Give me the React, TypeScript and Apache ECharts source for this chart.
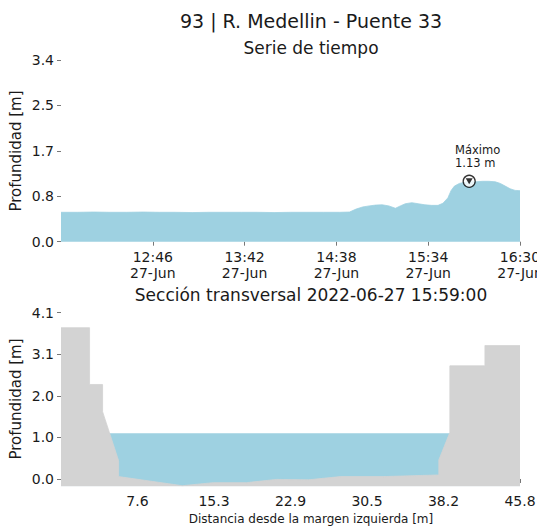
import React, { useEffect, useRef } from "react";
import * as echarts from "echarts";

// ---- Time series (top chart) ----
const seriesTimes = [
  "11:50", "12:00", "12:10", "12:20", "12:30", "12:40", "12:50", "13:00", "13:10", "13:20",
  "13:30", "13:40", "13:50", "14:00", "14:10", "14:20", "14:30", "14:40", "14:46", "14:50",
  "14:54", "14:58", "15:02", "15:06", "15:10", "15:14", "15:17", "15:20", "15:24", "15:28",
  "15:32", "15:36", "15:40", "15:43", "15:46", "15:48", "15:50", "15:53", "15:56", "15:59",
  "16:03", "16:07", "16:11", "16:15", "16:18", "16:21", "16:24", "16:27", "16:30",
];
const seriesDepths = [
  0.55, 0.55, 0.555, 0.55, 0.55, 0.555, 0.55, 0.55, 0.545, 0.55,
  0.55, 0.55, 0.55, 0.545, 0.55, 0.55, 0.55, 0.55, 0.555, 0.61,
  0.65, 0.67, 0.685, 0.69, 0.67, 0.625, 0.67, 0.71, 0.73, 0.71,
  0.69, 0.68, 0.68, 0.72, 0.82, 0.96, 1.04, 1.09, 1.11, 1.13,
  1.12, 1.13, 1.13, 1.12, 1.09, 1.04, 0.99, 0.96, 0.955,
];
const timeStart = "11:50";
const timeEnd = "16:30";
const timeTickTimes = ["12:46", "13:42", "14:38", "15:34", "16:30"];
const timeTickLabels = ["12:46\n27-Jun", "13:42\n27-Jun", "14:38\n27-Jun", "15:34\n27-Jun", "16:30\n27-Jun"];
const depthTicks = [0, 0.85, 1.7, 2.55, 3.4];
const depthTickLabels = ["0.0", "0.8", "1.7", "2.5", "3.4"];
const maxTime = "15:59";
const maxDepth = 1.13;

// ---- Cross section (bottom chart) ----
const sectionX = [0, 2.85, 2.85, 4.15, 4.15, 5.75, 5.75, 12.1, 15.2, 18.5, 21.5, 24.7, 27.9, 32.2, 37.7, 37.7, 38.8, 38.8, 42.3, 42.3, 45.8];
const sectionY = [3.73, 3.73, 2.33, 2.33, 1.66, 0.45, 0.06, -0.165, -0.09, -0.09, -0.01, -0.02, 0.06, 0.06, 0.1, 0.47, 1.15, 2.79, 2.79, 3.29, 3.29];
const waterLevel = maxDepth;
const sectionXTicks = [7.633, 15.267, 22.9, 30.533, 38.167, 45.8];
const sectionXTickLabels = ["7.6", "15.3", "22.9", "30.5", "38.2", "45.8"];
const sectionYTicks = [0, 1.025, 2.05, 3.075, 4.1];
const sectionYTickLabels = ["0.0", "1.0", "2.0", "3.1", "4.1"];

const WATER = "#9ed1e1";
const GROUND = "#d3d3d3";
const FONT = "DejaVu Sans";
const TEXT = "#1a1a1a";
const TICK = "#777";

// minutes since midnight of 2022-06-27
function toMin(hm: string): number {
  const [h, m] = hm.split(":").map(Number);
  return h * 60 + m;
}

function lookup(ticks: number[], labels: string[], v: number): string {
  for (let i = 0; i < ticks.length; i++) {
    if (Math.abs(ticks[i] - v) < 1e-6 * Math.max(1, Math.abs(v))) return labels[i];
  }
  return "";
}

export default function App() {
  const ref = useRef<HTMLDivElement>(null);
  useEffect(() => {
    if (!ref.current) return;
    const chart = echarts.init(ref.current, undefined, { renderer: "svg" });
    const timeTicks = timeTickTimes.map(toMin);
    const axisTick = { show: true, length: 4, lineStyle: { color: TICK, width: 1 } };
    const labelBase = { color: TEXT, fontFamily: FONT, fontSize: 14 };
    const option: any = {
      animation: false,
      backgroundColor: "#fff",
      grid: [
        { left: 61, top: 60, width: 459, height: 181.7, containLabel: false, outerBoundsMode: "none" },
        { left: 61, top: 312.7, width: 459, height: 173.6, containLabel: false, outerBoundsMode: "none" },
      ],
      xAxis: [
        {
          type: "value",
          gridIndex: 0,
          min: toMin(timeStart),
          max: toMin(timeEnd),
          axisLine: { show: false },
          splitLine: { show: false },
          axisTick: { ...axisTick, customValues: timeTicks },
          axisLabel: {
            ...labelBase,
            lineHeight: 16.5,
            margin: 7,
            customValues: timeTicks,
            showMaxLabel: true,
            formatter: (v: number) => lookup(timeTicks, timeTickLabels, v),
          },
        },
        {
          type: "value",
          gridIndex: 1,
          min: 0,
          max: 45.8,
          axisLine: { show: false },
          splitLine: { show: false },
          axisTick: { ...axisTick, customValues: sectionXTicks },
          axisLabel: {
            ...labelBase,
            margin: 8,
            customValues: sectionXTicks,
            showMaxLabel: true,
            formatter: (v: number) => lookup(sectionXTicks, sectionXTickLabels, v),
          },
        },
      ],
      yAxis: [
        {
          type: "value",
          gridIndex: 0,
          min: 0,
          max: 3.4,
          axisLine: { show: false },
          splitLine: { show: false },
          axisTick: { ...axisTick, customValues: depthTicks },
          axisLabel: {
            ...labelBase,
            margin: 7,
            customValues: depthTicks,
            formatter: (v: number) => lookup(depthTicks, depthTickLabels, v),
          },
        },
        {
          type: "value",
          gridIndex: 1,
          min: -0.18,
          max: 4.1,
          axisLine: { show: false },
          splitLine: { show: false },
          axisTick: { ...axisTick, customValues: sectionYTicks },
          axisLabel: {
            ...labelBase,
            margin: 7,
            customValues: sectionYTicks,
            formatter: (v: number) => lookup(sectionYTicks, sectionYTickLabels, v),
          },
        },
      ],
      series: [
        {
          type: "line",
          xAxisIndex: 0,
          yAxisIndex: 0,
          data: seriesTimes.map((t, i) => [toMin(t), seriesDepths[i]]),
          showSymbol: false,
          symbol: "none",
          lineStyle: { width: 0.8, color: WATER },
          areaStyle: { color: WATER, opacity: 1, origin: "start" },
          silent: true,
          z: 2,
        },
        {
          type: "scatter",
          xAxisIndex: 0,
          yAxisIndex: 0,
          data: [[toMin(maxTime), maxDepth]],
          symbol: "circle",
          symbolSize: 12,
          itemStyle: { color: "#fff", borderColor: "#000", borderWidth: 1.3 },
          silent: true,
          z: 5,
        },
        {
          type: "scatter",
          xAxisIndex: 0,
          yAxisIndex: 0,
          data: [[toMin(maxTime), maxDepth]],
          symbol: "triangle",
          symbolRotate: 180,
          symbolSize: [7, 6],
          itemStyle: { color: "#000" },
          silent: true,
          z: 6,
        },
        {
          type: "line",
          xAxisIndex: 1,
          yAxisIndex: 1,
          data: [[0, waterLevel], [45.8, waterLevel]],
          showSymbol: false,
          symbol: "none",
          lineStyle: { width: 0 },
          areaStyle: { color: WATER, opacity: 1, origin: "start" },
          silent: true,
          z: 2,
        },
        {
          type: "line",
          xAxisIndex: 1,
          yAxisIndex: 1,
          data: sectionX.map((x, i) => [x, sectionY[i]]),
          showSymbol: false,
          symbol: "none",
          lineStyle: { width: 0.8, color: GROUND },
          areaStyle: { color: GROUND, opacity: 1, origin: "start" },
          silent: true,
          z: 3,
        },
      ],
      graphic: [
        {
          type: "text", x: 311, y: 21,
          style: { text: "93 | R. Medellin - Puente 33", font: `19px ${FONT}`, fill: TEXT, align: "center", verticalAlign: "middle", textAlign: "center", textVerticalAlign: "middle" },
        },
        {
          type: "text", x: 311, y: 48,
          style: { text: "Serie de tiempo", font: `17px ${FONT}`, fill: TEXT, align: "center", verticalAlign: "middle", textAlign: "center", textVerticalAlign: "middle" },
        },
        {
          type: "text", x: 311, y: 295,
          style: { text: "Sección transversal 2022-06-27 15:59:00", font: `17px ${FONT}`, fill: TEXT, align: "center", verticalAlign: "middle", textAlign: "center", textVerticalAlign: "middle" },
        },
        {
          type: "text", x: 311, y: 518.5,
          style: { text: "Distancia desde la margen izquierda [m]", font: `12px ${FONT}`, fill: TEXT, align: "center", verticalAlign: "middle", textAlign: "center", textVerticalAlign: "middle" },
        },
        {
          type: "text", x: 16, y: 151, rotation: Math.PI / 2,
          style: { text: "Profundidad [m]", font: `15px ${FONT}`, fill: TEXT, align: "center", verticalAlign: "middle", textAlign: "center", textVerticalAlign: "middle" },
        },
        {
          type: "text", x: 16, y: 399, rotation: Math.PI / 2,
          style: { text: "Profundidad [m]", font: `15px ${FONT}`, fill: TEXT, align: "center", verticalAlign: "middle", textAlign: "center", textVerticalAlign: "middle" },
        },
        {
          type: "text", x: 455, y: 143,
          style: { text: `Máximo\n${maxDepth.toFixed(2)} m`, font: `11.5px ${FONT}`, lineHeight: 13, fill: TEXT, align: "left", verticalAlign: "top", textAlign: "left", textVerticalAlign: "top" },
        },
      ],
    };
    chart.setOption(option);
    return () => chart.dispose();
  }, []);
  return <div ref={ref} style={{ position: "fixed", left: 0, top: 0, width: 537, height: 527 }} />;
}
